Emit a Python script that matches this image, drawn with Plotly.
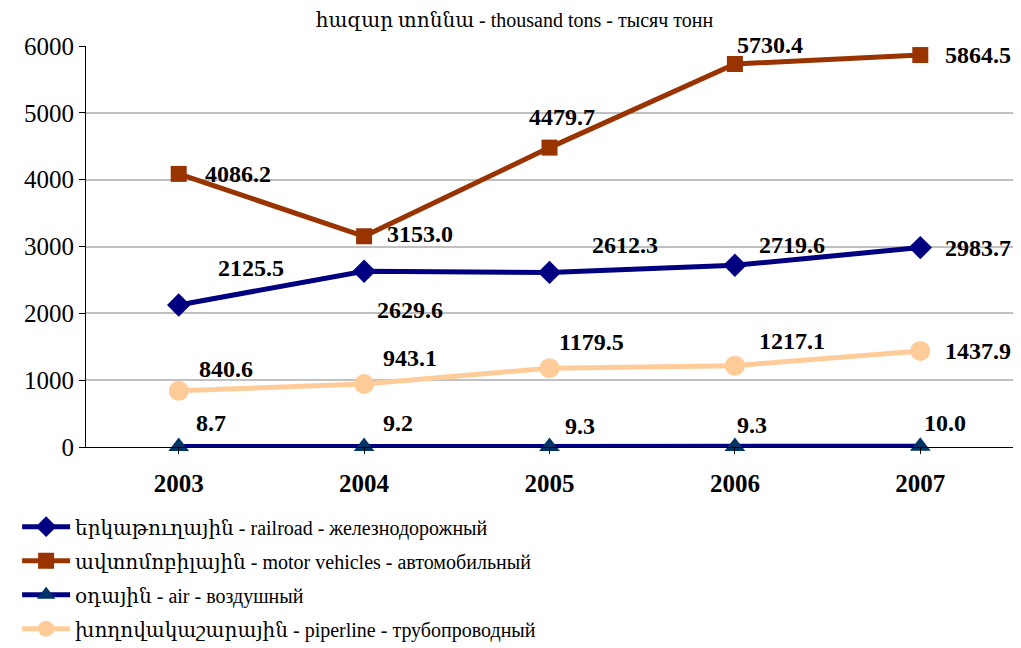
import plotly.graph_objects as go

years = ["2003", "2004", "2005", "2006", "2007"]
railroad = [2125.5, 2629.6, 2612.3, 2719.6, 2983.7]
motor = [4086.2, 3153.0, 4479.7, 5730.4, 5864.5]
air = [8.7, 9.2, 9.3, 9.3, 10.0]
pipeline = [840.6, 943.1, 1179.5, 1217.1, 1437.9]

names = [
    "երկաթուղային - railroad - железнодорожный",
    "ավտոմոբիլային - motor vehicles - автомобильный",
    "օդային - air - воздушный",
    "խողովակաշարային - piperline - трубопроводный",
]

# label offsets (px) for each point, per series
rail_off = [(72, 37), (46, -39), (75, 27), (57, 20), (58, 0)]
motor_off = [(59, 0), (56, 2), (12, 31), (35, 19), (58, 0)]
air_off = [(32, 23), (34, 23), (30, 20), (17, 21), (25, 23)]
pipe_off = [(47, 22), (46, 26), (42, 26), (57, 25), (58, 0)]

serif = "Liberation Serif, Times New Roman, DejaVu Serif, serif"

fig = go.Figure()

series = [
    (railroad, names[0], "#000080", "diamond", 18, "#000080", rail_off),
    (motor, names[1], "#993300", "square", 16, "#993300", motor_off),
    (air, names[2], "#000080", "triangle-up", 18, "#003366", air_off),
    (pipeline, names[3], "#FFCC99", "circle", 20, "#FFCC99", pipe_off),
]

for i, (vals, nm, lc, sym, sz, mc, offs) in enumerate(series):
    fig.add_trace(go.Scatter(
        x=years, y=vals, name=nm, mode="lines+markers", legendgroup=str(i),
        line=dict(color=lc, width=5),
        marker=dict(symbol=sym, size=sz, color=mc),
        cliponaxis=False,
    ))
    # category axis: annotation x given as category index
    for k, (v, (dx, dy)) in enumerate(zip(vals, offs)):
        fig.add_annotation(
            x=k, y=v, text=f"{v:.1f}", showarrow=False,
            xshift=dx, yshift=dy,
            font=dict(family=serif, size=24, color="black", weight="bold"),
        )

# page body adds an 8px margin, so the figure is 8px smaller than the window
fig.update_layout(
    width=1013, height=640,
    margin=dict(l=78, r=8, t=38, b=201, autoexpand=False),
    plot_bgcolor="white", paper_bgcolor="white",
    font=dict(family=serif, color="black"),
    title=dict(text="հազար տոննա - thousand tons - тысяч тонн",
               x=0.5, xanchor="center", y=0.982, yanchor="middle",
               font=dict(size=20, family=serif)),
    showlegend=True,
    legend=dict(x=0.009, xref="container", y=0.22, yref="container",
                yanchor="top", xanchor="left",
                orientation="v", font=dict(size=20, family=serif),
                itemwidth=48, tracegroupgap=5, bgcolor="rgba(0,0,0,0)"),
)

fig.update_xaxes(
    type="category", showline=True, linecolor="black", linewidth=1,
    ticks="outside", ticklen=6, tickcolor="black", showgrid=False,
    tickfont=dict(size=25, family=serif, weight="bold"),
    range=[-0.5, 4.5], automargin=False, ticklabelstandoff=8,
)
fig.update_yaxes(
    range=[0, 6000], dtick=1000, showline=True, linecolor="black", linewidth=1,
    ticks="outside", ticklen=6, tickcolor="black",
    showgrid=True, gridcolor="#c0c0c0", gridwidth=2, zeroline=False,
    tickfont=dict(size=25, family=serif), automargin=False,
)

fig.write_html("out.html")
